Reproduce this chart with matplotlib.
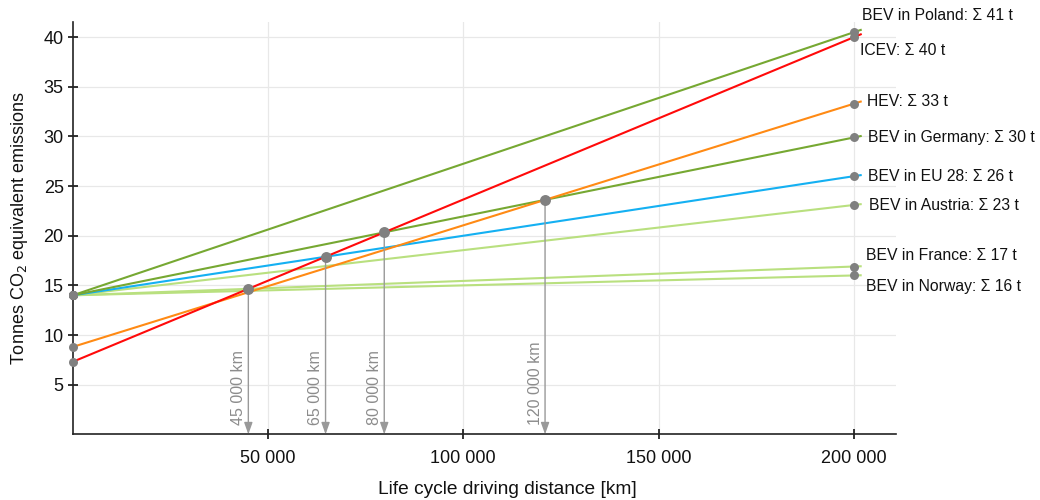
import matplotlib
matplotlib.use("Agg")
import matplotlib.pyplot as plt
import numpy as np

plt.rcParams['font.family'] = ['Liberation Sans', 'DejaVu Sans']

# ---- data ----
series_names = ["BEV in Poland", "ICEV", "HEV", "BEV in Germany", "BEV in EU 28",
                "BEV in Austria", "BEV in France", "BEV in Norway"]
start_t = [14.0, 7.3, 8.8, 14.0, 14.0, 14.0, 14.0, 14.0]      # tonnes at 0 km
end_t = [40.5, 40.0, 33.3, 29.9, 26.0, 23.1, 16.9, 16.0]      # tonnes at 200 000 km
totals_label = [41, 40, 33, 30, 26, 23, 17, 16]
distance_end = 200000

crossings = [("ICEV", "BEV in France"), ("ICEV", "BEV in EU 28"),
             ("ICEV", "BEV in Germany"), ("HEV", "BEV in Germany")]
crossing_labels = ["45 000 km", "65 000 km", "80 000 km", "120 000 km"]

x_ticks = [50000, 100000, 150000, 200000]
x_ticklabels = ["50 000", "100 000", "150 000", "200 000"]
y_ticks = [5, 10, 15, 20, 25, 30, 35, 40]

# ---- styles ----
colors = {"BEV in Poland": "#76a832", "ICEV": "#ff0a0a", "HEV": "#ff8a14",
          "BEV in Germany": "#76a832", "BEV in EU 28": "#14b0f2",
          "BEV in Austria": "#b9e07f", "BEV in France": "#b9e07f",
          "BEV in Norway": "#b9e07f"}
label_offsets = {"BEV in Poland": (8, 17), "ICEV": (6, -13), "HEV": (13, 2),
                 "BEV in Germany": (14, 0), "BEV in EU 28": (14, 0),
                 "BEV in Austria": (15, -1), "BEV in France": (12, 11),
                 "BEV in Norway": (12, -11)}
dot_color = "#808080"

fig = plt.figure(figsize=(10.4, 5.0), dpi=100)
ax = fig.add_axes([72.7 / 1040, 1 - 434.3 / 500, (895.7 - 72.7) / 1040, (434.3 - 22.3) / 500])

x_ext = distance_end * 1.01
zorders = {n: 2 + i * 0.01 for i, n in enumerate(series_names[::-1])}
for i, name in enumerate(series_names):
    s = (end_t[i] - start_t[i]) / distance_end
    xs = np.array([0, x_ext])
    ax.plot(xs, start_t[i] + s * xs, color=colors[name], lw=1.5, zorder=zorders[name],
            solid_capstyle='butt')
    ax.scatter([0, distance_end], [start_t[i], end_t[i]], s=42, color=dot_color,
               zorder=5, linewidths=0, clip_on=False)
    ax.annotate(f"{name}: Σ {totals_label[i]} t", (distance_end, end_t[i]),
                xytext=label_offsets[name], textcoords='offset pixels',
                ha='left', va='center', fontsize=11.3, color='#111111',
                annotation_clip=False)

idx = {n: i for i, n in enumerate(series_names)}
for (a, b), lab in zip(crossings, crossing_labels):
    ia, ib = idx[a], idx[b]
    sa = (end_t[ia] - start_t[ia]) / distance_end
    sb = (end_t[ib] - start_t[ib]) / distance_end
    xc = (start_t[ib] - start_t[ia]) / (sa - sb)
    yc = start_t[ia] + sa * xc
    ax.scatter([xc], [yc], s=62, color=dot_color, zorder=6, linewidths=0)
    ax.annotate("", xy=(xc, 0), xytext=(xc, yc),
                arrowprops=dict(arrowstyle="-|>,head_length=0.7,head_width=0.25",
                                color="#999999", lw=1.0, shrinkA=0, shrinkB=0),
                zorder=4)
    ax.annotate(lab, (xc, 0.9), xytext=(-10, 0), textcoords='offset pixels',
                rotation=90, ha='center', va='bottom', fontsize=11.5, color='#8c8c8c')

ax.set_xlim(0, 210700)
ax.set_ylim(0, 41.5)
ax.set_xticks(x_ticks)
ax.set_xticklabels(x_ticklabels)
ax.set_yticks(y_ticks)
ax.tick_params(axis='both', labelsize=13, length=7, width=1.2, color='#111111',
               direction='inout', labelcolor='#111111')
ax.tick_params(axis='x', pad=8)
ax.tick_params(axis='y', pad=3)
ax.grid(True, color='#e8e8e8', lw=0.9, zorder=0)
ax.set_axisbelow(True)
for sp in ['top', 'right']:
    ax.spines[sp].set_visible(False)
for sp in ['left', 'bottom']:
    ax.spines[sp].set_linewidth(1.2)
    ax.spines[sp].set_color('#222222')

ax.set_xlabel("Life cycle driving distance [km]", fontsize=13.8, color='#111111')
ax.xaxis.set_label_coords((507 - 72.7) / 823, -(490 - 434.3) / 412, transform=ax.transAxes)
ax.xaxis.label.set_va('center')
ax.set_ylabel("Tonnes CO$_2$ equivalent emissions", fontsize=13, labelpad=10, color='#111111')

fig.savefig("out.png", dpi=100)
